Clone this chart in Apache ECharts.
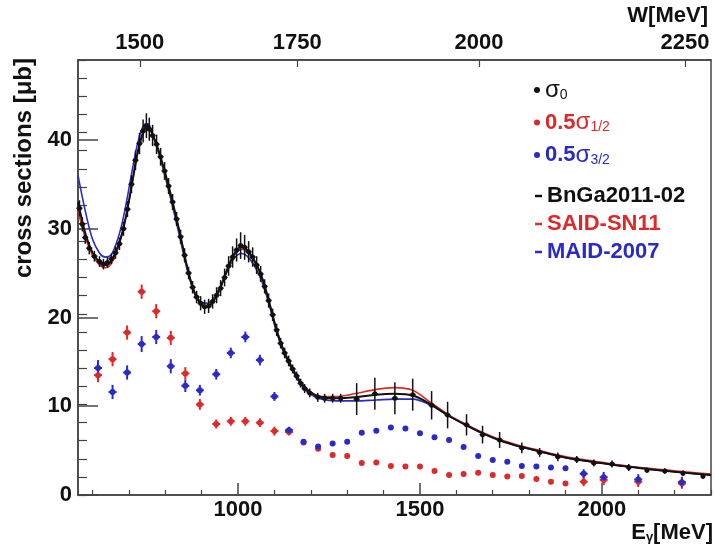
<!DOCTYPE html>
<html>
<head>
<meta charset="utf-8">
<script src="https://cdn.jsdelivr.net/npm/echarts@6/dist/echarts.min.js"></script>
<style>
  html, body { margin: 0; padding: 0; background: #fff; }
  #chart { width: 715px; height: 545px; }
</style>
</head>
<body>
<div id="chart"></div>
<script>
// ---- measured total cross section sigma_0 (photon energy in MeV, microbarn) ----
const sigma0E = [564, 572, 580, 591, 605, 619, 630, 641, 652, 663, 674, 685, 696, 707, 718, 729, 739, 748, 756, 765,
  776, 787, 798, 809, 820, 831, 842, 853, 864, 875, 886, 897, 908, 919, 930, 941, 952, 963, 974, 985,
  996, 1007, 1018, 1029, 1040, 1051, 1062, 1073, 1084, 1095, 1106, 1117, 1128, 1139, 1150, 1161, 1172, 1183, 1197, 1219,
  1238, 1260, 1282, 1326, 1376, 1431, 1480, 1532, 1576, 1628, 1672, 1719, 1780, 1829, 1879, 1931, 1978, 2028, 2074, 2124,
  2173, 2223, 2278];
const sigma0 = [32.3, 30.5, 29.0, 27.8, 26.9, 26.3, 26.0, 26.2, 26.6, 27.3, 28.3, 30.0, 32.2, 35.0, 37.7, 39.6, 41.0, 41.6, 41.2, 40.5,
  39.5, 38.1, 36.5, 34.8, 33.0, 31.1, 29.1, 27.0, 25.0, 23.4, 22.3, 21.6, 21.2, 21.3, 21.8, 22.5, 23.3, 24.5, 25.8, 26.8,
  27.6, 28.1, 27.9, 27.4, 26.8, 25.9, 24.9, 23.5, 21.9, 20.3, 18.6, 17.1, 16.0, 15.1, 14.2, 13.4, 12.6, 12.0, 11.5, 11.0,
  10.9, 10.9, 10.9, 10.8, 11.4, 10.9, 11.3, 10.1, 9.0, 7.9, 6.8, 6.2, 5.3, 4.8, 4.3, 4.0, 3.6, 3.5, 3.1, 2.8,
  2.7, 2.45, 2.1];
const sigma0Err = [0.9, 0.8, 0.7, 0.7, 0.6, 0.6, 0.6, 0.6, 0.6, 0.7, 0.7, 0.8, 0.9, 1.0, 1.1, 1.2, 1.3, 1.4, 1.3, 1.2,
  1.1, 1.0, 1.0, 0.9, 0.9, 0.8, 0.8, 0.8, 0.7, 0.7, 0.7, 0.8, 0.8, 0.8, 0.8, 0.9, 0.9, 1.0, 1.1, 1.2,
  1.3, 1.5, 1.4, 1.2, 1.1, 1.0, 0.9, 0.8, 0.8, 0.7, 0.7, 0.6, 0.6, 0.6, 0.5, 0.5, 0.5, 0.5, 0.5, 0.5,
  0.5, 0.5, 0.5, 1.8, 1.8, 1.8, 1.8, 1.6, 1.5, 1.2, 1.0, 0.9, 0.6, 0.5, 0.5, 0.4, 0.4, 0.4, 0.4, 0.3,
  0.3, 0.3, 0.3];

// ---- helicity-dependent parts, scaled by 0.5 ----
const helicityE = [615, 655, 695, 735, 775, 815, 855, 895, 940, 980, 1020, 1060, 1100, 1140, 1180, 1220, 1260, 1300, 1340, 1380,
  1420, 1460, 1500, 1540, 1580, 1620, 1660, 1700, 1740, 1780, 1820, 1860, 1900, 1950, 2005, 2100, 2220];
const sigmaHalf = [13.5, 15.3, 18.3, 22.9, 20.7, 17.7, 13.7, 10.2, 8.0, 8.3, 8.3, 8.15, 7.2, 7.1, 5.9, 5.2, 4.5, 4.4, 3.6, 3.65,
  3.27, 3.2, 3.2, 2.7, 2.25, 2.37, 2.5, 2.25, 2.07, 2.14, 1.8, 1.5, 1.3, 1.5, 1.7, 1.5, 1.3];
const sigmaHalfErr = [0.8, 0.8, 0.8, 0.8, 0.8, 0.8, 0.7, 0.6, 0.5, 0.5, 0.5, 0.5, 0.5, 0.4, 0.2, 0.2, 0.2, 0.2, 0.2, 0.2,
  0.2, 0.2, 0.2, 0.2, 0.2, 0.2, 0.2, 0.2, 0.2, 0.2, 0.2, 0.2, 0.2, 0.5, 0.6, 0.6, 0.6];
const sigmaThreeHalf = [14.3, 11.6, 13.8, 17.0, 17.8, 14.5, 12.3, 11.8, 13.6, 16.0, 17.8, 15.2, 11.1, 7.3, 6.0, 5.45, 5.8, 6.0, 7.0, 7.25,
  7.6, 7.5, 6.95, 6.5, 6.2, 5.4, 4.4, 3.95, 3.75, 3.27, 3.2, 3.1, 3.0, 2.4, 2.0, 1.75, 1.45];
const sigmaThreeHalfErr = [0.9, 0.8, 0.8, 0.9, 0.8, 0.8, 0.7, 0.6, 0.6, 0.6, 0.6, 0.6, 0.5, 0.4, 0.2, 0.2, 0.2, 0.2, 0.2, 0.2,
  0.2, 0.2, 0.2, 0.2, 0.2, 0.2, 0.2, 0.2, 0.2, 0.2, 0.2, 0.2, 0.2, 0.5, 0.6, 0.6, 0.6];

// ---- partial-wave analysis predictions ----
const modelE = [560, 580, 600, 620, 635, 650, 665, 680, 695, 710, 725, 740, 752, 765, 780, 800, 820, 840, 860, 880,
  900, 915, 930, 950, 970, 990, 1010, 1025, 1045, 1065, 1085, 1105, 1125, 1150, 1175, 1200, 1230, 1270, 1320, 1380,
  1430, 1480, 1530, 1580, 1630, 1680, 1730, 1780, 1830, 1880, 1930, 1980, 2030, 2080, 2130, 2180, 2230, 2300];
const bnga = [33.0, 29.5, 27.3, 26.2, 25.9, 26.3, 27.5, 29.3, 32.0, 35.5, 38.8, 41.0, 41.6, 40.6, 39.0, 36.2, 33.0, 29.5, 25.7, 22.8,
  21.4, 21.2, 21.7, 23.2, 25.4, 27.2, 28.0, 27.6, 26.4, 24.6, 21.8, 18.7, 16.3, 14.2, 12.5, 11.5, 11.0, 10.9, 11.0, 11.3,
  11.4, 11.2, 10.2, 8.9, 7.8, 6.8, 6.0, 5.4, 4.9, 4.4, 4.0, 3.7, 3.4, 3.15, 2.9, 2.7, 2.5, 2.25];
const said = [32.0, 29.0, 27.0, 25.9, 25.6, 26.0, 27.2, 29.2, 32.0, 35.3, 38.6, 40.8, 41.4, 40.5, 38.9, 36.1, 32.9, 29.4, 25.7, 22.9,
  21.5, 21.3, 21.8, 23.2, 25.3, 27.0, 27.7, 27.4, 26.3, 24.5, 21.8, 18.8, 16.4, 14.3, 12.6, 11.6, 11.1, 11.1, 11.4, 11.9,
  12.1, 11.8, 10.4, 9.0, 7.9, 6.9, 6.1, 5.5, 5.0, 4.5, 4.1, 3.8, 3.5, 3.2, 3.0, 2.8, 2.6, 2.35];
const maid = [36.0, 32.0, 28.8, 27.2, 26.8, 27.0, 28.3, 30.4, 33.4, 36.8, 39.8, 41.6, 41.8, 40.6, 38.8, 35.8, 32.5, 29.0, 25.4, 22.8,
  21.7, 21.6, 22.0, 23.4, 25.2, 26.7, 27.2, 26.9, 25.8, 24.1, 21.5, 18.5, 16.1, 14.0, 12.3, 11.3, 10.8, 10.6, 10.6, 10.7,
  10.8, 10.8, 10.1, 8.9, 7.8, 6.8, 6.0, 5.4, 4.9, 4.4, 4.0, 3.7, 3.4, 3.15, 2.9, 2.7, 2.5, 2.25];

// ---- axis ticks ----
const eMajorTicks = [1000, 1500, 2000];
const eMinorTicks = [600, 700, 800, 900, 1100, 1200, 1300, 1400, 1600, 1700, 1800, 1900, 2100, 2200, 2300];
const wTicks = [1500, 1750, 2000, 2250];
const yMajorTicks = [0, 10, 20, 30, 40];

// ---- styling ----
const RED = '#dc2a2a';
const BLUE = '#2a2ac6';
const BLACK = '#111111';
const AXIS = '#444444';
const FONT = '"Liberation Sans", Arial, Helvetica, sans-serif';

// W (invariant mass) -> photon lab energy on a proton target
const M_P = 938.272;
const eFromW = w => (w * w - M_P * M_P) / (2 * M_P);
const wTickE = wTicks.map(eFromW);

const zip2 = (xs, ys) => xs.map((x, i) => [x, ys[i]]);
const zip3 = (xs, ys, es) => xs.map((x, i) => [x, ys[i], es[i]]);

function errorBars(halfWidthPx, lineWidth) {
  return function (params, api) {
    const x = api.value(0), y = api.value(1), e = api.value(2);
    const hi = api.coord([x, y + e]);
    const lo = api.coord([x, y - e]);
    const color = api.visual('color');
    const children = [{
      type: 'line',
      shape: { x1: hi[0], y1: hi[1], x2: lo[0], y2: lo[1] },
      style: { stroke: color, lineWidth: lineWidth }
    }];
    if (e >= 0.4) {
      const c = api.coord([x, y]);
      children.push({
        type: 'line',
        shape: { x1: c[0] - halfWidthPx, y1: c[1], x2: c[0] + halfWidthPx, y2: c[1] },
        style: { stroke: color, lineWidth: lineWidth }
      });
    }
    return { type: 'group', children: children };
  };
}

const tickLabel = { fontFamily: FONT, fontSize: 22, fontWeight: 'bold', color: '#111' };
const legendRich = {
  k:  { fontFamily: FONT, color: BLACK, fontSize: 24, lineHeight: 24 },
  ks: { fontFamily: FONT, color: BLACK, fontSize: 14, lineHeight: 14, verticalAlign: 'bottom' },
  rn: { fontFamily: FONT, color: RED, fontSize: 22, fontWeight: 'bold', lineHeight: 24 },
  rg: { fontFamily: FONT, color: RED, fontSize: 24, lineHeight: 24 },
  rs: { fontFamily: FONT, color: RED, fontSize: 14, lineHeight: 14, verticalAlign: 'bottom' },
  bn: { fontFamily: FONT, color: BLUE, fontSize: 22, fontWeight: 'bold', lineHeight: 24 },
  bg: { fontFamily: FONT, color: BLUE, fontSize: 24, lineHeight: 24 },
  bs: { fontFamily: FONT, color: BLUE, fontSize: 14, lineHeight: 14, verticalAlign: 'bottom' },
  kb: { fontFamily: FONT, color: BLACK, fontSize: 22, fontWeight: 'bold', lineHeight: 24 },
  rb: { fontFamily: FONT, color: RED, fontSize: 22, fontWeight: 'bold', lineHeight: 24 },
  bb: { fontFamily: FONT, color: BLUE, fontSize: 22, fontWeight: 'bold', lineHeight: 24 }
};
const legendLabels = {
  'σ0': '{k|σ}{ks|0}',
  '0.5σ1/2': '{rn|0.5}{rg|σ}{rs|1/2}',
  '0.5σ3/2': '{bn|0.5}{bg|σ}{bs|3/2}',
  'BnGa2011-02': '{kb|BnGa2011-02}',
  'SAID-SN11': '{rb|SAID-SN11}',
  'MAID-2007': '{bb|MAID-2007}'
};

const chart = echarts.init(document.getElementById('chart'), null, { renderer: 'canvas' });

chart.setOption({
  animation: false,
  backgroundColor: '#fff',
  textStyle: { fontFamily: FONT },
  grid: {
    left: 78, right: 4, top: 60, bottom: 50,
    show: true, borderColor: AXIS, borderWidth: 1.5,
    outerBoundsMode: 'none', containLabel: false
  },
  legend: [
    {
      orient: 'vertical', left: 534, top: 78, padding: 0,
      itemWidth: 6, itemHeight: 6, itemGap: 8.5,
      data: [
        { name: 'σ0', icon: 'circle' },
        { name: '0.5σ1/2', icon: 'circle' },
        { name: '0.5σ3/2', icon: 'circle' }
      ],
      formatter: name => legendLabels[name],
      textStyle: { rich: legendRich }
    },
    {
      orient: 'vertical', left: 535, top: 185, padding: 0,
      itemWidth: 7, itemHeight: 2.5, itemGap: 6,
      data: [
        { name: 'BnGa2011-02', icon: 'rect' },
        { name: 'SAID-SN11', icon: 'rect' },
        { name: 'MAID-2007', icon: 'rect' }
      ],
      formatter: name => legendLabels[name],
      textStyle: { rich: legendRich }
    }
  ],
  xAxis: [
    {
      type: 'value', position: 'bottom', min: 560, max: 2300,
      axisLine: { show: true, onZero: false, lineStyle: { color: AXIS, width: 1.5 } },
      axisTick: { show: true, inside: true, length: 12, customValues: eMajorTicks, lineStyle: { color: AXIS, width: 1.5 } },
      axisLabel: Object.assign({ customValues: eMajorTicks, margin: 4, formatter: v => String(v) }, tickLabel),
      splitLine: { show: false },
      name: '{a|E}{s|γ}{a|[MeV]}',
      nameLocation: 'end', nameGap: 2, nameMoveOverlap: false,
      nameTextStyle: {
        align: 'right', verticalAlign: 'top', padding: [27, 0, 0, 0],
        rich: {
          a: { fontFamily: FONT, fontSize: 22, fontWeight: 'bold', color: '#111', lineHeight: 22 },
          s: { fontFamily: FONT, fontSize: 13, fontWeight: 'bold', color: '#111', lineHeight: 13, verticalAlign: 'bottom' }
        }
      }
    },
    {
      type: 'value', position: 'bottom', min: 560, max: 2300,
      axisLine: { show: false, onZero: false },
      axisTick: { show: true, inside: true, length: 5, customValues: eMinorTicks, lineStyle: { color: AXIS, width: 1.2 } },
      axisLabel: { show: false },
      splitLine: { show: false }
    },
    {
      type: 'value', position: 'top', min: 560, max: 2300,
      axisLine: { show: true, onZero: false, lineStyle: { color: AXIS, width: 1.5 } },
      axisTick: { show: true, inside: true, length: 7, customValues: wTickE, lineStyle: { color: AXIS, width: 1.2 } },
      axisLabel: Object.assign({
        customValues: wTickE, margin: 6,
        formatter: v => {
          const i = wTickE.findIndex(e => Math.abs(e - v) < 0.01);
          return i >= 0 ? String(wTicks[i]) : '';
        }
      }, tickLabel),
      splitLine: { show: false },
      name: 'W[MeV]',
      nameLocation: 'end', nameGap: -3, nameMoveOverlap: false,
      nameTextStyle: {
        fontFamily: FONT, fontSize: 22, fontWeight: 'bold', color: '#111', lineHeight: 22,
        align: 'right', verticalAlign: 'bottom', padding: [0, 0, 33, 0]
      }
    }
  ],
  yAxis: [
    {
      type: 'value', position: 'left', min: 0, max: 49,
      axisLine: { show: true, onZero: false, lineStyle: { color: AXIS, width: 1.5 } },
      axisTick: { show: true, inside: true, length: 20, customValues: yMajorTicks, lineStyle: { color: AXIS, width: 1.5 } },
      axisLabel: Object.assign({ customValues: yMajorTicks, margin: 6, padding: [8, 0, 0, 0], formatter: v => String(v) }, tickLabel),
      splitLine: { show: false },
      name: 'cross sections [μb]',
      nameLocation: 'end', nameRotate: 90, nameGap: 2, nameMoveOverlap: false,
      nameTextStyle: {
        fontFamily: FONT, fontSize: 24, fontWeight: 'bold', color: '#111', lineHeight: 24,
        align: 'right', verticalAlign: 'bottom', padding: [0, 0, 42, 0]
      }
    },
    {
      type: 'value', position: 'left', min: 0, max: 48, interval: 2,
      axisLine: { show: false, onZero: false },
      axisTick: { show: true, inside: true, length: 9, lineStyle: { color: AXIS, width: 1.2 } },
      axisLabel: { show: false },
      splitLine: { show: false }
    }
  ],
  series: [
    {
      name: 'MAID-2007', type: 'line', data: zip2(modelE, maid), smooth: 0.35,
      symbol: 'none', showSymbol: false, z: 2,
      lineStyle: { color: BLUE, width: 1.6 }, itemStyle: { color: BLUE }
    },
    {
      name: 'SAID-SN11', type: 'line', data: zip2(modelE, said), smooth: 0.35,
      symbol: 'none', showSymbol: false, z: 2,
      lineStyle: { color: RED, width: 1.6 }, itemStyle: { color: RED }
    },
    {
      name: 'BnGa2011-02', type: 'line', data: zip2(modelE, bnga), smooth: 0.35,
      symbol: 'none', showSymbol: false, z: 2,
      lineStyle: { color: BLACK, width: 2 }, itemStyle: { color: BLACK }
    },
    {
      name: '0.5σ1/2', type: 'scatter', data: zip2(helicityE, sigmaHalf),
      symbol: 'circle', symbolSize: 6, z: 4, itemStyle: { color: RED, opacity: 1 }
    },
    {
      name: '0.5σ3/2', type: 'scatter', data: zip2(helicityE, sigmaThreeHalf),
      symbol: 'circle', symbolSize: 6, z: 4, itemStyle: { color: BLUE, opacity: 1 }
    },
    {
      name: 'σ0', type: 'scatter', data: zip2(sigma0E, sigma0),
      symbol: 'circle', symbolSize: 5, z: 5, itemStyle: { color: BLACK, opacity: 1 }
    },
    {
      name: '0.5σ1/2', type: 'custom', data: zip3(helicityE, sigmaHalf, sigmaHalfErr),
      encode: { x: 0, y: 1 }, renderItem: errorBars(4, 2), z: 3, itemStyle: { color: RED }
    },
    {
      name: '0.5σ3/2', type: 'custom', data: zip3(helicityE, sigmaThreeHalf, sigmaThreeHalfErr),
      encode: { x: 0, y: 1 }, renderItem: errorBars(4, 2), z: 3, itemStyle: { color: BLUE }
    },
    {
      name: 'σ0', type: 'custom', data: zip3(sigma0E, sigma0, sigma0Err),
      encode: { x: 0, y: 1 }, renderItem: errorBars(3, 1.5), z: 5, itemStyle: { color: BLACK }
    }
  ]
});
</script>
</body>
</html>
